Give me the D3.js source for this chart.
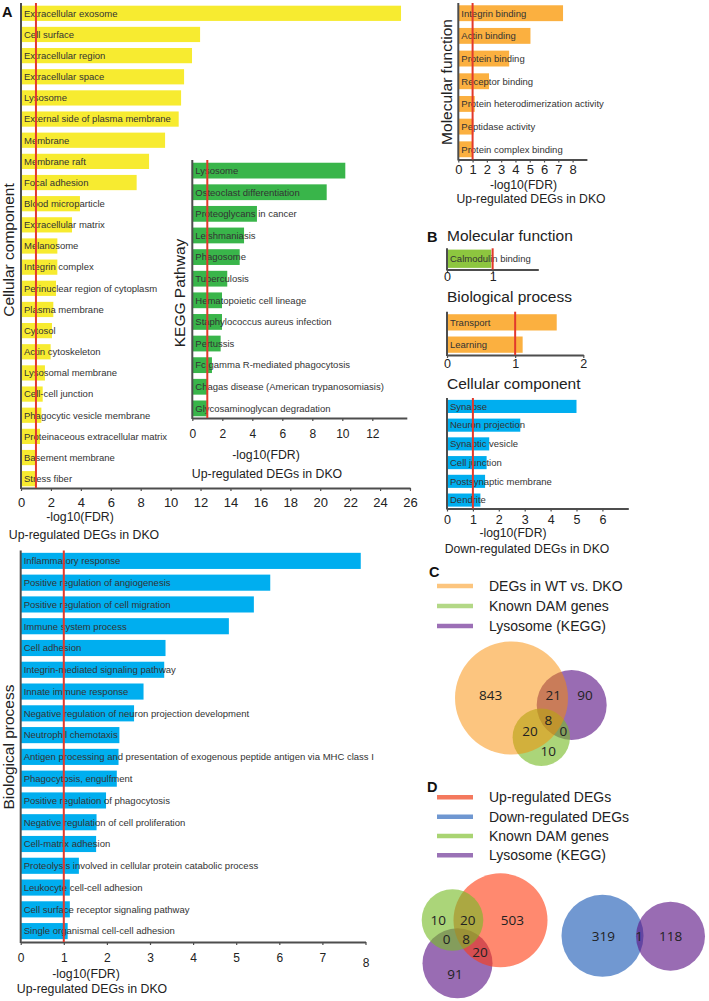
<!DOCTYPE html>
<html>
<head>
<meta charset="utf-8">
<script src="https://cdn.jsdelivr.net/npm/d3@7"></script>
<style>
  body { margin: 0; background: #fff; }
  svg { font-family: "Liberation Sans", Arial, sans-serif; }
</style>
</head>
<body>
<svg id="fig" width="709" height="1001"></svg>
<script>
// ---- data (A: up-regulated DEGs in DKO) ----
const ccTerms = [
  "Extracellular exosome", "Cell surface", "Extracellular region", "Extracellular space",
  "Lysosome", "External side of plasma membrane", "Membrane", "Membrane raft",
  "Focal adhesion", "Blood microparticle", "Extracellular matrix", "Melanosome",
  "Integrin complex", "Perinuclear region of cytoplasm", "Plasma membrane", "Cytosol",
  "Actin cytoskeleton", "Lysosomal membrane", "Cell-cell junction",
  "Phagocytic vesicle membrane", "Proteinaceous extracellular matrix",
  "Basement membrane", "Stress fiber"
];
const ccValues = [25.4, 11.97, 11.43, 10.9, 10.7, 10.54, 9.63, 8.56, 7.73, 3.94, 3.41, 2.43,
  2.43, 2.34, 2.16, 2.07, 1.98, 1.6, 1.45, 1.36, 1.27, 1.03, 1.02];

const keggTerms = [
  "Lysosome", "Osteoclast differentiation", "Proteoglycans in cancer", "Leishmaniasis",
  "Phagosome", "Tuberculosis", "Hematopoietic cell lineage", "Staphylococcus aureus infection",
  "Pertussis", "Fc gamma R-mediated phagocytosis", "Chagas disease (American trypanosomiasis)",
  "Glycosaminoglycan degradation"
];
const keggValues = [10.2, 8.96, 4.31, 3.45, 3.16, 2.33, 1.98, 1.98, 1.89, 1.31, 1.0, 0.97];

const mfUpTerms = [
  "Integrin binding", "Actin binding", "Protein binding", "Receptor binding",
  "Protein heterodimerization activity", "Peptidase activity", "Protein complex binding"
];
const mfUpValues = [7.33, 5.05, 3.56, 2.15, 1.15, 1.05, 1.0];

const bpUpTerms = [
  "Inflammatory response", "Positive regulation of angiogenesis",
  "Positive regulation of cell migration", "Immune system process", "Cell adhesion",
  "Integrin-mediated signaling pathway", "Innate immune response",
  "Negative regulation of neuron projection development", "Neutrophil chemotaxis",
  "Antigen processing and presentation of exogenous peptide antigen via MHC class I",
  "Phagocytosis, engulfment", "Positive regulation of phagocytosis",
  "Negative regulation of cell proliferation", "Cell-matrix adhesion",
  "Proteolysis involved in cellular protein catabolic process",
  "Leukocyte cell-cell adhesion", "Cell surface receptor signaling pathway",
  "Single organismal cell-cell adhesion"
];
const bpUpValues = [7.89, 5.79, 5.41, 4.83, 3.36, 3.33, 2.85, 2.63, 2.29, 2.27, 2.23, 1.98,
  1.76, 1.75, 1.35, 1.14, 1.14, 1.09];

// ---- data (B: down-regulated DEGs in DKO) ----
const mfDownTerms = ["Calmodulin binding"];
const mfDownValues = [0.97];
const bpDownTerms = ["Transport", "Learning"];
const bpDownValues = [1.61, 1.11];
const ccDownTerms = ["Synapse", "Neuron projection", "Synaptic vesicle", "Cell junction",
  "Postsynaptic membrane", "Dendrite"];
const ccDownValues = [5.0, 2.83, 1.63, 1.53, 1.47, 1.29];

// ---- data (C, D: venn counts) ----
const vennCSets = ["DEGs in WT vs. DKO", "Known DAM genes", "Lysosome (KEGG)"];
const vennCCounts = [843, 21, 90, 8, 20, 0, 10];
const vennDSets = ["Up-regulated DEGs", "Down-regulated DEGs", "Known DAM genes", "Lysosome (KEGG)"];
const vennDCounts = [10, 20, 503, 0, 8, 20, 91];
const vennD2Counts = [319, 1, 118];

const cutoff = 1; // -log10(FDR) threshold line

const svg = d3.select("#fig");
const AXIS = "#4d4d4d", RED = "#e3392b", TXT = "#333";

function barChart(c) {
  const g = svg.append("g");
  const x = d3.scaleLinear().domain(c.domain).range(c.xRange);
  const y = d3.scaleBand().domain(c.terms).range([c.top, c.bottom])
    .paddingInner(c.padIn).paddingOuter(c.padOut);

  g.selectAll("rect").data(c.terms).join("rect")
    .attr("x", x(0))
    .attr("y", d => y(d))
    .attr("width", (d, i) => x(c.values[i]) - x(0))
    .attr("height", y.bandwidth())
    .attr("fill", c.color);

  g.selectAll("text.lbl").data(c.terms).join("text")
    .attr("class", "lbl")
    .attr("x", x(0) + 3)
    .attr("y", d => y(d) + y.bandwidth() / 2)
    .attr("dy", "0.35em")
    .attr("font-size", c.labelSize || 9.5)
    .attr("fill", TXT)
    .text(d => d);

  const fs = c.tickSize;
  const axis = d3.axisBottom(x).tickValues(c.ticks).tickSize(3).tickSizeOuter(0)
    .tickPadding(c.tickBase - c.bottom - 3 - 0.71 * fs)
    .tickFormat(d3.format("d"));
  const ax = g.append("g").attr("transform", `translate(0,${c.bottom})`).call(axis);
  ax.attr("font-family", null).attr("font-size", fs).attr("color", AXIS);
  ax.select(".domain").attr("stroke-width", 2);
  ax.selectAll(".tick line").attr("stroke-width", 1.2);
  ax.selectAll(".tick text").attr("fill", "#222");
  if (c.lastTickDrop) ax.selectAll(".tick:last-of-type text").attr("dy", (0.71 * fs + c.lastTickDrop) + "px");

  // vertical axis line
  g.append("line")
    .attr("x1", x(0)).attr("x2", x(0))
    .attr("y1", c.lineTop).attr("y2", c.bottom + 1)
    .attr("stroke", AXIS).attr("stroke-width", 2);

  // FDR cutoff line
  g.append("line")
    .attr("x1", x(cutoff)).attr("x2", x(cutoff))
    .attr("y1", c.lineTop).attr("y2", c.bottom)
    .attr("stroke", RED).attr("stroke-width", 2);

  if (c.yTitle) {
    g.append("text")
      .attr("transform", `translate(${c.yTitle.x},${c.yTitle.y}) rotate(-90)`)
      .attr("text-anchor", "middle")
      .attr("font-size", 15.5)
      .attr("fill", "#222")
      .text(c.yTitle.text);
  }
  (c.xTitles || []).forEach(t => {
    g.append("text")
      .attr("x", t.x).attr("y", t.y)
      .attr("text-anchor", t.anchor || "middle")
      .attr("font-size", t.size)
      .attr("fill", "#222")
      .text(t.text);
  });
  return g;
}

// A: cellular component
barChart({
  terms: ccTerms, values: ccValues, color: "#f7eb30",
  domain: [0, 26], xRange: [21, 410], top: 4, bottom: 488, padIn: 0.28, padOut: 0.08,
  ticks: d3.range(0, 27, 2), tickSize: 13, tickBase: 507, lineTop: 3,
  yTitle: { x: 13.5, y: 250, text: "Cellular component" },
  xTitles: [
    { x: 80, y: 521, size: 12.3, text: "-log10(FDR)" },
    { x: 84, y: 539, size: 12.3, text: "Up-regulated DEGs in DKO" }
  ]
});

// A: KEGG pathway (inset)
barChart({
  terms: keggTerms, values: keggValues, color: "#39b54a",
  domain: [0, 14.3], xRange: [192.3, 406.8], top: 161, bottom: 418, padIn: 0.27, padOut: 0.08,
  ticks: d3.range(0, 13, 2), tickSize: 12, tickBase: 438, lineTop: 160,
  yTitle: { x: 185, y: 293, text: "KEGG Pathway" },
  xTitles: [
    { x: 266, y: 459, size: 12.3, text: "-log10(FDR)" },
    { x: 267, y: 478, size: 12.3, text: "Up-regulated DEGs in DKO" }
  ]
});

// A: molecular function
barChart({
  terms: mfUpTerms, values: mfUpValues, color: "#fbb040",
  domain: [0, 9], xRange: [458.3, 586.9], top: 3, bottom: 159.5, padIn: 0.3, padOut: 0.1,
  ticks: d3.range(0, 9), tickSize: 13, tickBase: 174, lineTop: 3,
  yTitle: { x: 451.5, y: 82, text: "Molecular function" },
  xTitles: [
    { x: 523.5, y: 189, size: 12.2, text: "-log10(FDR)" },
    { x: 531, y: 203, size: 12.2, text: "Up-regulated DEGs in DKO" }
  ]
});

// A: biological process
barChart({
  terms: bpUpTerms, values: bpUpValues, color: "#00aeef",
  domain: [0, 8], xRange: [20.7, 365.5], top: 550, bottom: 942, padIn: 0.26, padOut: 0.13,
  ticks: d3.range(0, 9), tickSize: 12, tickBase: 962, lineTop: 550.5, lastTickDrop: 5,
  yTitle: { x: 13.5, y: 747, text: "Biological process" },
  xTitles: [
    { x: 86, y: 978, size: 12.3, text: "-log10(FDR)" },
    { x: 92, y: 993, size: 12.3, text: "Up-regulated DEGs in DKO" }
  ]
});

// B: down-regulated
barChart({
  terms: mfDownTerms, values: mfDownValues, color: "#8dc63f",
  domain: [0, 2], xRange: [447, 538.3], top: 248, bottom: 269.5, padIn: 0.15, padOut: 0.06,
  ticks: [0, 1], tickSize: 12.5, tickBase: 281, lineTop: 248.3
});
barChart({
  terms: bpDownTerms, values: bpDownValues, color: "#fbb040",
  domain: [0, 2], xRange: [447, 583.3], top: 312, bottom: 355, padIn: 0.27, padOut: 0.1,
  ticks: [0, 1, 2], tickSize: 12.5, tickBase: 367.5, lineTop: 311.7
});
barChart({
  terms: ccDownTerms, values: ccDownValues, color: "#00aeef",
  domain: [0, 7], xRange: [447, 628.3], top: 398, bottom: 508.5, padIn: 0.3, padOut: 0.1,
  ticks: d3.range(0, 7), tickSize: 12.5, tickBase: 524, lineTop: 398,
  xTitles: [
    { x: 513, y: 537, size: 12.2, text: "-log10(FDR)" },
    { x: 527, y: 553, size: 12.2, text: "Down-regulated DEGs in DKO" }
  ]
});

// section headings in B
const heads = [
  { x: 447, y: 241, text: "Molecular function" },
  { x: 447, y: 301.5, text: "Biological process" },
  { x: 447, y: 389, text: "Cellular component" }
];
svg.selectAll("text.head").data(heads).join("text")
  .attr("class", "head")
  .attr("x", d => d.x).attr("y", d => d.y)
  .attr("font-size", 15.5).attr("fill", "#222")
  .text(d => d.text);

// panel letters
const letters = [
  { t: "A", x: 2, y: 17 }, { t: "B", x: 427, y: 242 },
  { t: "C", x: 429, y: 577 }, { t: "D", x: 427, y: 792 }
];
svg.selectAll("text.letter").data(letters).join("text")
  .attr("class", "letter")
  .attr("x", d => d.x).attr("y", d => d.y)
  .attr("font-size", 14.5).attr("font-weight", "bold").attr("fill", "#111")
  .text(d => d.t);

// ---- venn diagrams ----
function legend(sets, colors, x0, ys) {
  const g = svg.append("g");
  sets.forEach((s, i) => {
    g.append("line")
      .attr("x1", x0).attr("x2", x0 + 36)
      .attr("y1", ys[i]).attr("y2", ys[i])
      .attr("stroke", colors[i]).attr("stroke-width", 4.5);
    g.append("text")
      .attr("x", x0 + 52).attr("y", ys[i]).attr("dy", "0.35em")
      .attr("font-size", 14).attr("fill", "#222")
      .text(s);
  });
}
// circles listed bottom-to-top in drawing order
function venn(circles, counts, spots) {
  const g = svg.append("g");
  g.selectAll("circle").data(circles).join("circle")
    .attr("cx", d => d.cx).attr("cy", d => d.cy).attr("r", d => d.r)
    .attr("fill", d => d.fill).attr("fill-opacity", d => d.op);
  g.selectAll("text").data(counts).join("text")
    .attr("x", (d, i) => spots[i][0]).attr("y", (d, i) => spots[i][1])
    .attr("dy", "0.35em").attr("text-anchor", "middle")
    .attr("font-family", "'Open Sans', sans-serif")
    .attr("font-size", 13.5).attr("fill", "#222")
    .text(d => d);
}

// C
legend(vennCSets, ["#fcc57e", "#b3d886", "#9c6fb6"], 437, [586, 606, 626]);
venn([
  { cx: 571.7, cy: 705, r: 35, fill: "#5a1185", op: 0.62 },
  { cx: 541.3, cy: 737.3, r: 28.7, fill: "#78bb26", op: 0.62 },
  { cx: 511.5, cy: 698, r: 56.5, fill: "#f98c00", op: 0.5 }
], vennCCounts, [[490.7, 695], [553.3, 695], [585, 695], [548.3, 720], [530, 731.7], [563.3, 731.7], [548.3, 751.7]]);

// D
legend(vennDSets, ["#f4795e", "#6f97d1", "#a9d472", "#9a72b6"], 437, [797.3, 816.7, 836, 855.3]);
venn([
  { cx: 457.5, cy: 963.3, r: 35, fill: "#5a1185", op: 0.62 },
  { cx: 500.5, cy: 920.3, r: 47, fill: "#ff3a0f", op: 0.6 },
  { cx: 452.5, cy: 920, r: 30.8, fill: "#78bb26", op: 0.62 }
], vennDCounts, [[438.3, 920], [467.7, 920], [512.3, 920], [446.7, 939.3], [466, 939.3], [480, 952.7], [455, 974]]);
venn([
  { cx: 602.5, cy: 935.8, r: 41, fill: "#1253b2", op: 0.6 },
  { cx: 670.5, cy: 936.2, r: 34.5, fill: "#5a1185", op: 0.62 }
], vennD2Counts, [[603.3, 936], [639, 936], [670.7, 936]]);
</script>
</body>
</html>
